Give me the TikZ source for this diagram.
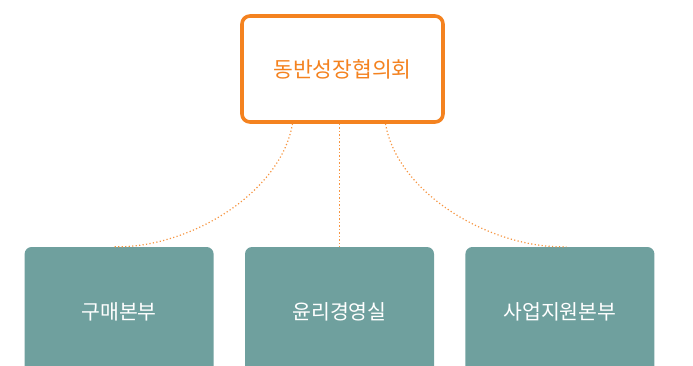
\documentclass[tikz,border=0pt]{standalone}
\usepackage{fontspec}
\setmainfont{Noto Sans CJK KR}
\usepackage{xcolor}
\usetikzlibrary{positioning}
\definecolor{councilorange}{HTML}{F4821F}
\definecolor{deptteal}{HTML}{6FA09E}

\begin{document}
\begin{tikzpicture}[
  x=1pt,y=1pt,
  node distance=31pt, % space between the department boxes
  council node/.style={draw=councilorange,line width=3.6pt,rounded corners=8pt,fill=white,
    minimum width=201pt,minimum height=106pt,text=councilorange,font=\fontsize{21.5}{24}\selectfont}, % style of the top box
  dept node/.style={fill=deptteal,rounded corners=7pt,minimum width=189pt,minimum height=130pt,
    text=white,font=\fontsize{20.5}{24}\selectfont}, % style of the department boxes
  link/.style={draw=councilorange!85,line width=1.2pt,dash pattern=on 1.2pt off 2.3pt} % dotted connector
  ]
  \useasboundingbox (0,0) rectangle (693,365);

  \node[council node] (council) at (342.5,296) {동반성장협의회};
  \node[dept node] (ethics) at (339.5,53) {윤리경영실};
  \node[dept node] (purchase) [left=of ethics] {구매본부};
  \node[dept node] (support) [right=of ethics] {사업지원본부};

  \draw[link] ([xshift=-50pt]council.south) .. controls +(-12,-70) and +(75,-2) .. ([xshift=-6pt]purchase.north);
  \draw[link] ([xshift=-3pt]council.south) -- (ethics.north);
  \draw[link] ([xshift=43pt]council.south) .. controls +(12,-70) and +(-75,-2) .. ([xshift=6.5pt]support.north);
\end{tikzpicture}
\end{document}
